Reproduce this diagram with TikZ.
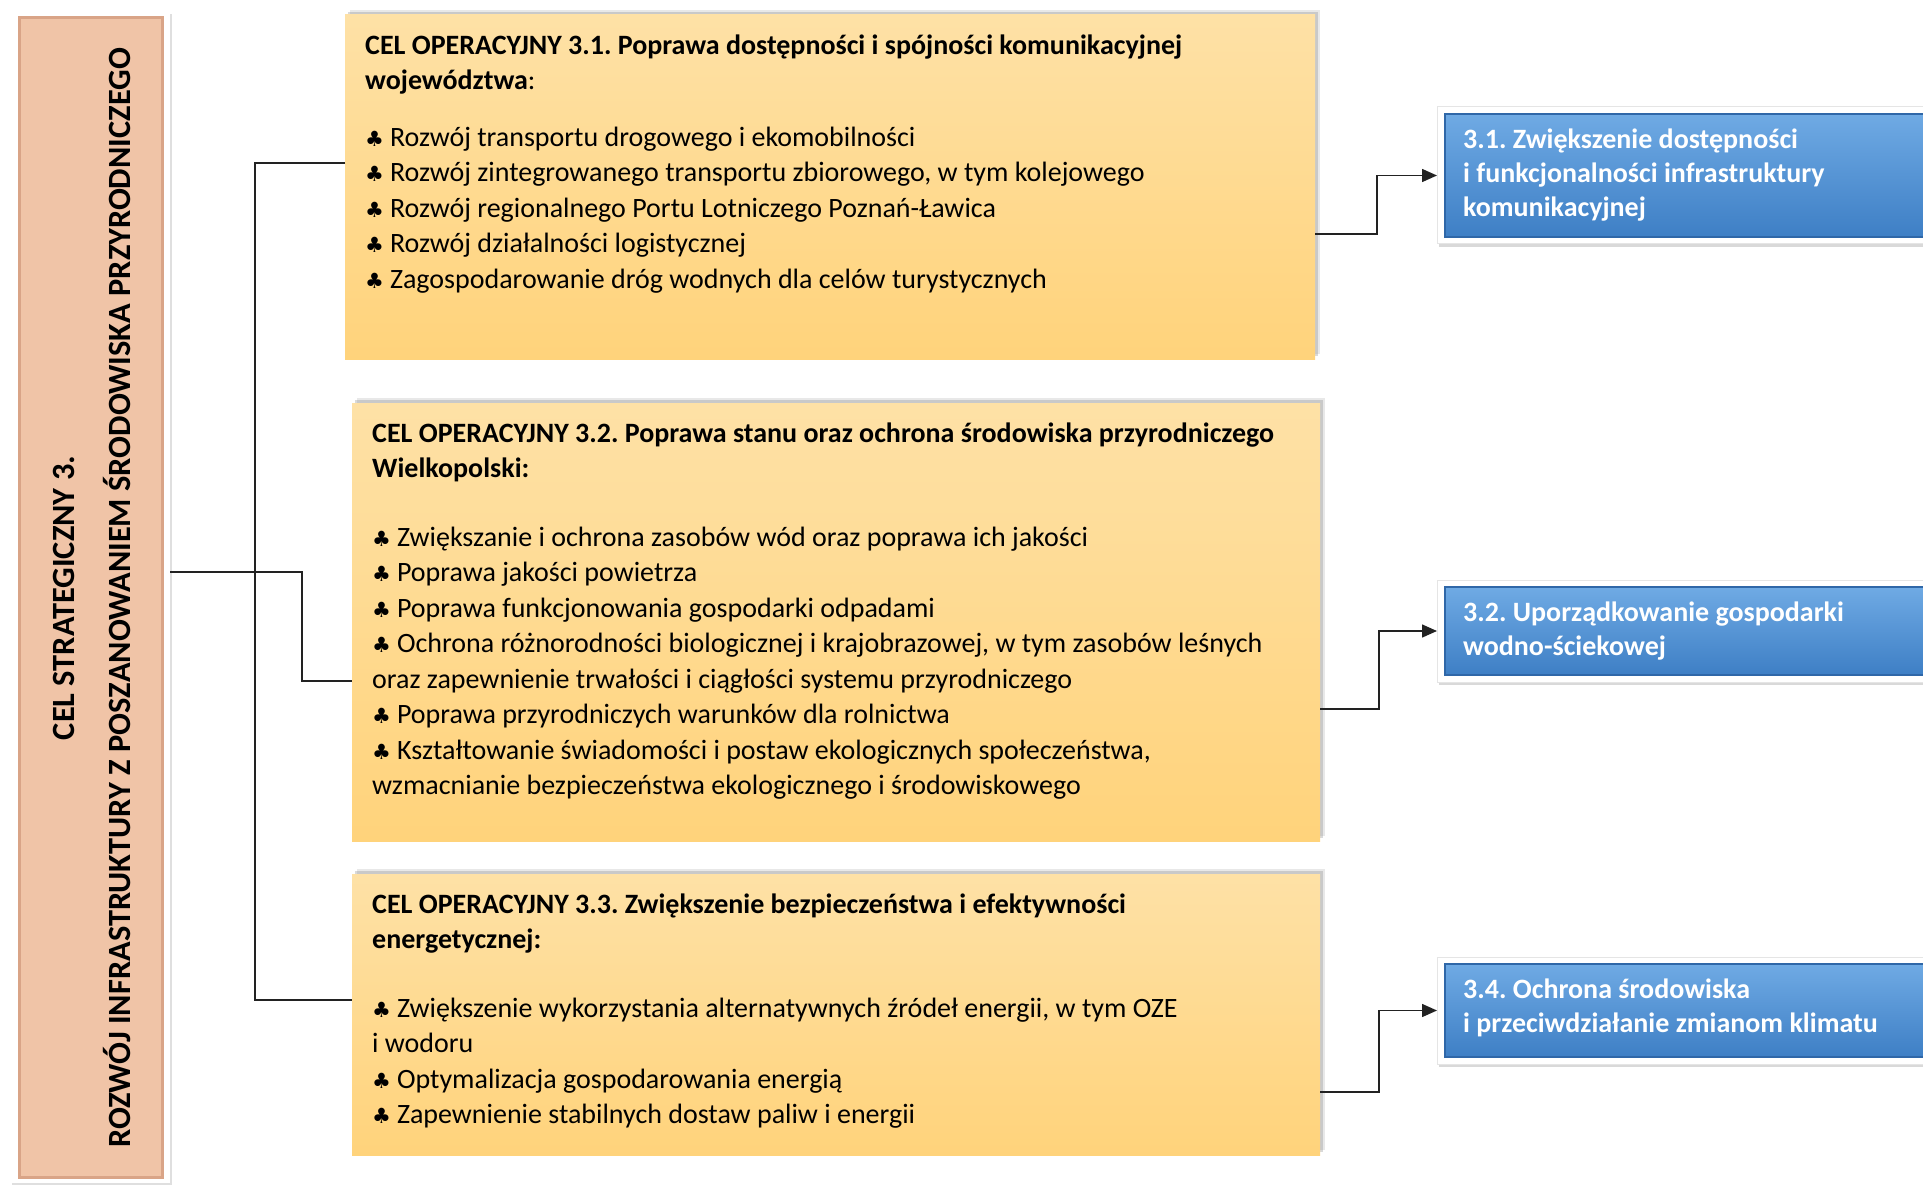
\documentclass[tikz,border=0pt]{standalone}
\usepackage{fontspec}
\setmainfont{Carlito}
\newfontfamily\symfont{DejaVu Sans}
\usetikzlibrary{arrows.meta,shadows}
\definecolor{salmon}{HTML}{F0C4A7}
\definecolor{salmonedge}{HTML}{D9A487}
\definecolor{celtop}{HTML}{FEE1A6}
\definecolor{celbot}{HTML}{FFD37B}
\definecolor{kiertop}{HTML}{6FAAE4}
\definecolor{kierbot}{HTML}{3E7FC5}
\definecolor{kieredge}{HTML}{2F67A8}
\definecolor{connc}{HTML}{222222}
\frenchspacing
\def\kierx{1437}
\def\rgt{1923}
\newcommand{\Pkt}{{\symfont\fontsize{21}{21}\selectfont ♣}\hspace{6pt}}
\newcommand{\Cel}[6]{% name, left, top, right, bottom, text
  \node[celbox,minimum width={#4-#2},minimum height={#5-#3},anchor=north west] (#1) at (#2,#3) {};
  \node[celtext,anchor=north west] (#1-txt) at (#1.north west) {#6};
}
\newcommand{\Kier}[4]{% name, top, bottom, text
  \node[kierframe,minimum width={\rgt-\kierx},minimum height={#3-#2},anchor=north west] (#1) at (\kierx,#2) {};
  \fill[kierfill] ({\kierx+8},{#2+7}) rectangle ({\rgt+3},{#3-7});
  \node[kiertext,anchor=north west] (#1-txt) at ({\kierx+8},{#2+7}) {#4};
}

\begin{document}
\begin{tikzpicture}[x=1pt,y=-1pt,
  celbox/.style={inner sep=0pt,outer sep=0pt,top color=celtop,bottom color=celbot,
    drop shadow={shadow xshift=5pt,shadow yshift=5pt,opacity=.18},
    drop shadow={shadow xshift=3pt,shadow yshift=3pt,opacity=.3}},
  celtext/.style={align=left,inner xsep=20pt,inner ysep=19.5pt,font=\fontsize{28}{35.5}\selectfont},
  kierframe/.style={inner sep=0pt,outer sep=0pt,fill=white,draw=black!10,line width=1pt,
    drop shadow={shadow xshift=2pt,shadow yshift=-3pt,opacity=.3}},
  kierfill/.style={top color=kiertop,bottom color=kierbot,draw=kieredge,line width=2.5pt},
  kiertext/.style={align=left,inner xsep=18pt,inner ysep=15pt,text=white,
    font=\bfseries\fontsize{28}{34}\selectfont},
  strattext/.style={rotate=90,inner sep=0pt,font=\bfseries\fontsize{32.4}{38}\selectfont},
  conn/.style={draw=connc,line width=1.5pt},
  arr/.style={conn,-{Triangle[length=15pt,width=13pt]}}]

\useasboundingbox (0,0) rectangle (1923,1185);

% --- strategic goal (left bar) ---------------------------------------
\node[inner sep=0pt,outer sep=0pt,fill=white,minimum width=160,minimum height=1171,anchor=north west,
  drop shadow={shadow xshift=2pt,shadow yshift=-2pt,opacity=.25}] (strat) at (10,12) {};
\fill[salmon,draw=salmonedge,line width=3pt] (19,18) rectangle (162,1177);
\node[strattext] (strat-a) at (64,598) {CEL STRATEGICZNY 3.};
\node[strattext] (strat-b) at (117,598) {ROZWÓJ INFRASTRUKTURY Z POSZANOWANIEM ŚRODOWISKA PRZYRODNICZEGO};

% --- operational goals -----------------------------------------------
\Cel{op1}{345}{15}{1315}{359}{%
\textbf{CEL OPERACYJNY 3.1. Poprawa dostępności i spójności komunikacyjnej}\\
\textbf{województwa}:\\[21pt]
\Pkt Rozwój transportu drogowego i ekomobilności\\
\Pkt Rozwój zintegrowanego transportu zbiorowego, w tym kolejowego\\
\Pkt Rozwój regionalnego Portu Lotniczego Poznań-Ławica\\
\Pkt Rozwój działalności logistycznej\\
\Pkt Zagospodarowanie dróg wodnych dla celów turystycznych}

\Cel{op2}{352}{403}{1320}{841}{%
\textbf{CEL OPERACYJNY 3.2. Poprawa stanu oraz ochrona środowiska przyrodniczego}\\
\textbf{Wielkopolski:}\\[33pt]
\Pkt Zwiększanie i ochrona zasobów wód oraz poprawa ich jakości\\
\Pkt Poprawa jakości powietrza\\
\Pkt Poprawa funkcjonowania gospodarki odpadami\\
\Pkt Ochrona różnorodności biologicznej i krajobrazowej, w tym zasobów leśnych\\
oraz zapewnienie trwałości i ciągłości systemu przyrodniczego\\
\Pkt Poprawa przyrodniczych warunków dla rolnictwa\\
\Pkt Kształtowanie świadomości i postaw ekologicznych społeczeństwa,\\
wzmacnianie bezpieczeństwa ekologicznego i środowiskowego}

\Cel{op3}{352}{874}{1320}{1155}{%
\textbf{CEL OPERACYJNY 3.3. Zwiększenie bezpieczeństwa i efektywności}\\
\textbf{energetycznej:}\\[33pt]
\Pkt Zwiększenie wykorzystania alternatywnych źródeł energii, w tym OZE\\
i wodoru\\
\Pkt Optymalizacja gospodarowania energią\\
\Pkt Zapewnienie stabilnych dostaw paliw i energii}

% --- directions (right) ----------------------------------------------
\Kier{kier1}{107}{244}{3.1. Zwiększenie dostępności\\ i funkcjonalności infrastruktury\\ komunikacyjnej}
\Kier{kier2}{580}{682}{3.2. Uporządkowanie gospodarki\\ wodno-ściekowej}
\Kier{kier4}{957}{1064}{3.4. Ochrona środowiska\\ i przeciwdziałanie zmianom klimatu}

% --- connectors -------------------------------------------------------
\coordinate (jn) at (255,572);
\coordinate (tr1) at (255,163);
\coordinate (tr3) at (255,1000);
\coordinate (el2) at (302,681);
\draw[conn] (strat.east |- jn) -- (jn);
\draw[conn] (op1.west |- tr1) -- (tr1) -- (tr3) -- (op3.west |- tr3);
\draw[conn] (jn) -| (el2) -- (op2.west |- el2);

\coordinate (r1) at (1377,234);
\coordinate (r2) at (1379,709);
\coordinate (r4) at (1379,1092);
\draw[arr] (op1.east |- r1) -- (r1) |- (kier1.west);
\draw[arr] (op2.east |- r2) -- (r2) |- (kier2.west);
\draw[arr] (op3.east |- r4) -- (r4) |- (kier4.west);

\end{tikzpicture}
\end{document}
